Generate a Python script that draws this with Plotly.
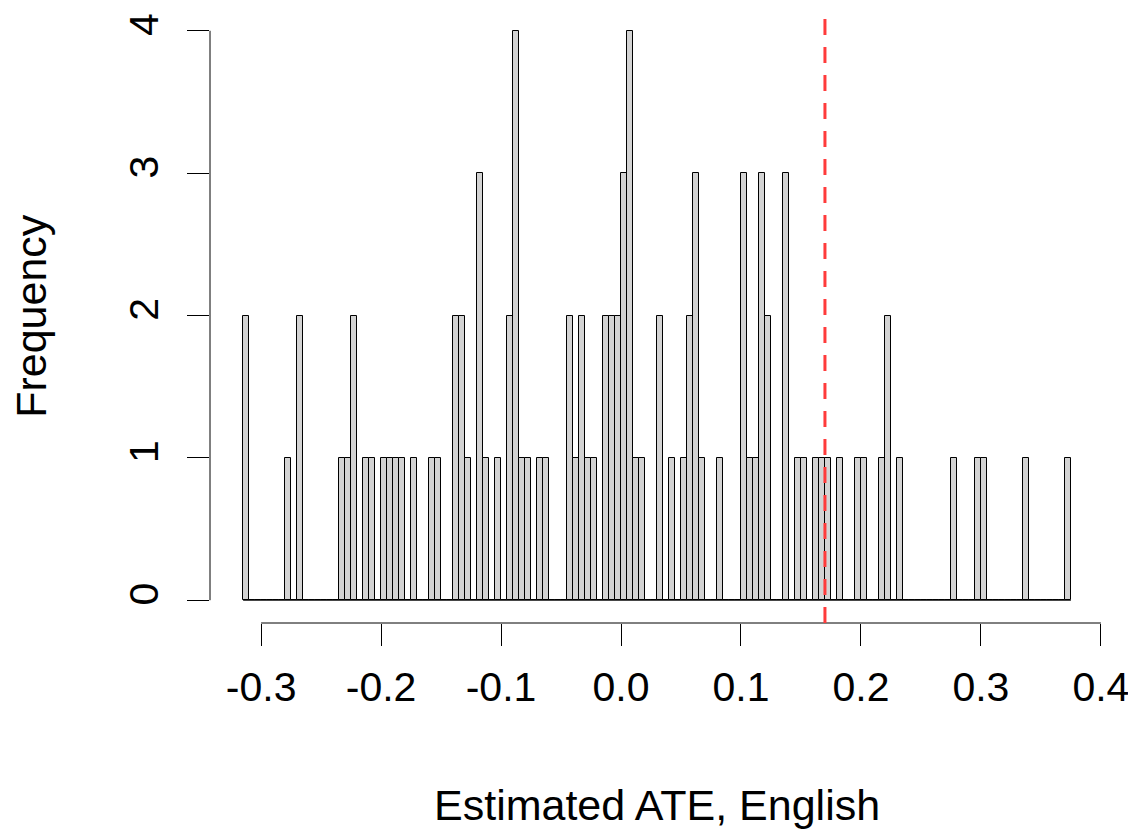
import plotly.graph_objects as go

# Histogram data (R-style hist, bin width 0.005)
bin_start = -0.315
bin_width = 0.005
counts = [
    2, 0, 0, 0, 0, 0, 0, 1, 0, 2,
    0, 0, 0, 0, 0, 0, 1, 1, 2, 0,
    1, 1, 0, 1, 1, 1, 1, 0, 1, 0,
    0, 1, 1, 0, 0, 2, 2, 1, 0, 3,
    1, 0, 1, 0, 2, 4, 1, 1, 0, 1,
    1, 0, 0, 0, 2, 1, 2, 1, 1, 0,
    2, 2, 2, 3, 4, 1, 1, 0, 0, 2,
    0, 1, 0, 1, 2, 3, 1, 0, 0, 1,
    0, 0, 0, 3, 1, 1, 3, 2, 0, 0,
    3, 0, 1, 1, 0, 1, 1, 1, 0, 1,
    0, 0, 1, 1, 0, 0, 1, 2, 0, 1,
    0, 0, 0, 0, 0, 0, 0, 0, 1, 0,
    0, 0, 1, 1, 0, 0, 0, 0, 0, 0,
    1, 0, 0, 0, 0, 0, 0, 1,
]
observed_ate = 0.17

x_ticks = [-0.3, -0.2, -0.1, 0.0, 0.1, 0.2, 0.3, 0.4]
x_ticklabels = ["-0.3", "-0.2", "-0.1", "0.0", "0.1", "0.2", "0.3", "0.4"]
y_ticks = [0, 1, 2, 3, 4]
y_ticklabels = ["0", "1", "2", "3", "4"]

x_title = "Estimated ATE, English"
y_title = "Frequency"

n = len(counts)
centers = [bin_start + bin_width * (i + 0.5) for i in range(n)]
edge_lo = bin_start
edge_hi = bin_start + bin_width * n

# R-style 4% axis padding
xr = edge_hi - edge_lo
x_range = [edge_lo - 0.04 * xr, edge_hi + 0.04 * xr]
ymax = max(counts)
y_range = [-0.04 * ymax, ymax * 1.04]

FONT = "Liberation Sans, Arial, Helvetica, sans-serif"
FS = 41
FS_TITLE = 43

fig = go.Figure()
fig.add_trace(go.Bar(
    x=centers, y=counts, width=[bin_width] * n,
    marker=dict(color="#D3D3D3", line=dict(color="black", width=1)),
    showlegend=False, hoverinfo="x+y",
))
# baseline formed by the empty bins in R
fig.add_trace(go.Scatter(
    x=[edge_lo, edge_hi], y=[0, 0], mode="lines",
    line=dict(color="black", width=1), showlegend=False, hoverinfo="skip",
))

# page body has an 8px default margin, so the figure is 8px smaller
fig.update_layout(
    width=1128, height=823,
    margin=dict(l=202, r=32, t=0, b=208, autoexpand=False),
    plot_bgcolor="white", paper_bgcolor="white",
    font=dict(family=FONT, size=FS, color="black"),
    bargap=0,
    shapes=[
        dict(type="line", xref="x", yref="paper", x0=x_ticks[0], x1=x_ticks[-1],
             y0=0, y1=0, line=dict(color="black", width=1)),
        dict(type="line", xref="paper", yref="y", x0=0, x1=0,
             y0=y_ticks[0], y1=y_ticks[-1], line=dict(color="black", width=1)),
        dict(type="line", xref="x", yref="paper", x0=observed_ate, x1=observed_ate,
             y0=0, y1=1, line=dict(color="#FF3B3B", width=3, dash="16px,12px")),
    ],
    annotations=[
        dict(text=x_title, xref="paper", yref="paper", x=0.5, y=-0.296,
             xanchor="center", yanchor="middle", showarrow=False,
             font=dict(family=FONT, size=FS_TITLE, color="black")),
        dict(text=y_title, xref="paper", yref="paper", x=-0.201, y=0.5,
             xanchor="center", yanchor="middle", showarrow=False, textangle=-90,
             font=dict(family=FONT, size=FS_TITLE, color="black")),
    ],
)
fig.update_xaxes(
    range=x_range, showgrid=False, zeroline=False, showline=False, automargin=False,
    ticks="outside", ticklen=22, tickwidth=1, tickcolor="black",
    tickvals=x_ticks, ticktext=x_ticklabels, ticklabelstandoff=6,
    tickfont=dict(family=FONT, size=FS, color="black"),
)
fig.update_yaxes(
    range=y_range, showgrid=False, zeroline=False, showline=False, automargin=False,
    ticks="outside", ticklen=22, tickwidth=1, tickcolor="black",
    tickvals=y_ticks, ticktext=y_ticklabels, tickangle=-90, ticklabelstandoff=13,
    tickfont=dict(family=FONT, size=FS, color="black"),
)

fig.write_html("out.html")
